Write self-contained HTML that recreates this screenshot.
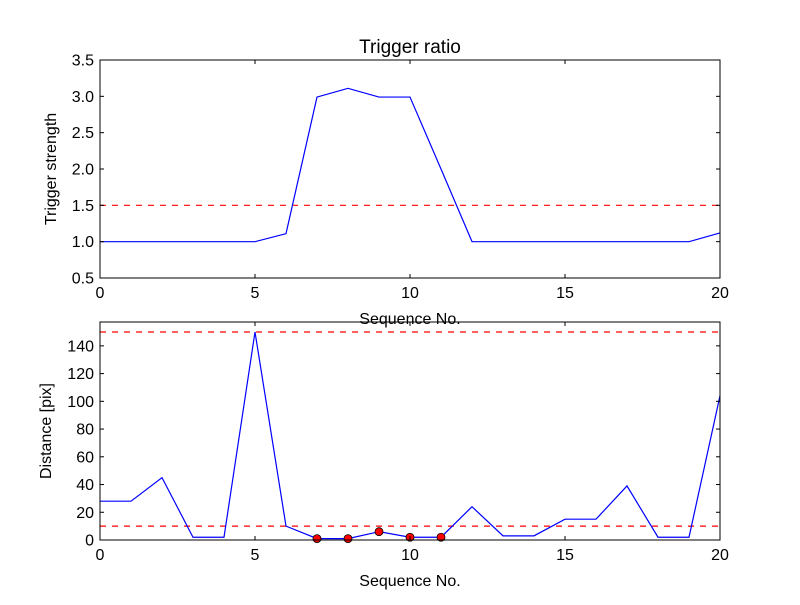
<!DOCTYPE html>
<html><head><meta charset="utf-8"><style>
body{margin:0;background:#fff;}
svg text{font-family:"Liberation Sans",sans-serif;fill:#000;}
</style></head><body>
<svg id="c" width="800" height="600" xmlns="http://www.w3.org/2000/svg"></svg>
<script>
const seq = [0,1,2,3,4,5,6,7,8,9,10,11,12,13,14,15,16,17,18,19,20];
const ratio = [1,1,1,1,1,1,1.11,2.99,3.11,2.99,2.99,2.0,1,1,1,1,1,1,1,1,1.12];
const dist = [28,28,45,2,2,150,10,1,1,6,2,2,24,3,3,15,15,39,2,2,104];
const markedIdx = [7,8,9,10,11];
const xTicks = [0,5,10,15,20];
const topTicks = [0.5,1.0,1.5,2.0,2.5,3.0,3.5];
const botTicks = [0,20,40,60,80,100,120,140];
const ratioThresh = 1.5;
const distThresh = [10,150];

const svg = document.getElementById('c');
const NS = 'http://www.w3.org/2000/svg';
function mk(tag, attrs, name){
  const e = document.createElementNS(NS, tag);
  for (const k in attrs) e.setAttribute(k, attrs[k]);
  
  
  svg.appendChild(e); return e;
}
function txt(x,y,s,name,opts){
  const t = mk('text', Object.assign({x:x,y:y,'font-size':16,'text-anchor':'middle'}, opts||{}), name);
  t.textContent = s; return t;
}
function panel(p){
  const X = v => p.x0 + (v - p.xmin)/(p.xmax - p.xmin)*(p.x1 - p.x0);
  const Y = v => p.y1 - (v - p.ymin)/(p.ymax - p.ymin)*(p.y1 - p.y0);
  // thresholds
  p.thr.forEach(t => mk('line',{x1:p.x0,x2:p.x1,y1:Y(t),y2:Y(t),stroke:'#f00','stroke-width':1.2,'stroke-dasharray':'6,6'}, p.id+'-threshold-line'));
  // series
  const pts = seq.map((s,i)=>X(s).toFixed(2)+','+Y(p.data[i]).toFixed(2)).join(' ');
  mk('polyline',{points:pts,fill:'none',stroke:'#00f','stroke-width':1.2}, p.id+'-series-line');
  if (p.marks) p.marks.forEach(i => mk('circle',{cx:X(seq[i]),cy:Y(p.data[i]),r:4,fill:'#f00',stroke:'#000','stroke-width':0.8}, p.id+'-marker'));
  // frame
  mk('rect',{x:p.x0,y:p.y0,width:p.x1-p.x0,height:p.y1-p.y0,fill:'none',stroke:'#000','stroke-width':1}, p.id+'-axes-frame');
  xTicks.forEach(t => {
    const x = X(t);
    mk('line',{x1:x,x2:x,y1:p.y1,y2:p.y1-4,stroke:'#000'}, p.id+'-x-tick');
    mk('line',{x1:x,x2:x,y1:p.y0,y2:p.y0+4,stroke:'#000'}, p.id+'-x-tick');
    txt(x,p.y1+20,String(t),p.id+'-x-tick-label');
  });
  p.yt.forEach(t => {
    const y = Y(t);
    mk('line',{x1:p.x0,x2:p.x0+4,y1:y,y2:y,stroke:'#000'}, p.id+'-y-tick');
    mk('line',{x1:p.x1,x2:p.x1-4,y1:y,y2:y,stroke:'#000'}, p.id+'-y-tick');
    txt(p.x0-6,y+5.5,p.fmt(t),p.id+'-y-tick-label',{'text-anchor':'end'});
  });
  txt((p.x0+p.x1)/2,p.y1+46,'Sequence No.',p.id+'-x-axis-title');
  const cy=(p.y0+p.y1)/2;
  txt(p.ylx,cy,p.ylabel,p.id+'-y-axis-title',{transform:'rotate(-90 '+p.ylx+' '+cy+')'});
}
panel({id:'top',x0:100,x1:720,y0:60,y1:278,xmin:0,xmax:20,ymin:0.5,ymax:3.5,data:ratio,thr:[ratioThresh],yt:topTicks,fmt:v=>v.toFixed(1),ylabel:'Trigger strength',ylx:56});
panel({id:'bottom',x0:100,x1:720,y0:322,y1:540,xmin:0,xmax:20,ymin:0,ymax:157.2,data:dist,thr:distThresh,yt:botTicks,fmt:v=>String(v),ylabel:'Distance [pix]',ylx:51,marks:markedIdx});
txt(410,53,'Trigger ratio','chart-title',{'font-size':19});
</script>
</body></html>
